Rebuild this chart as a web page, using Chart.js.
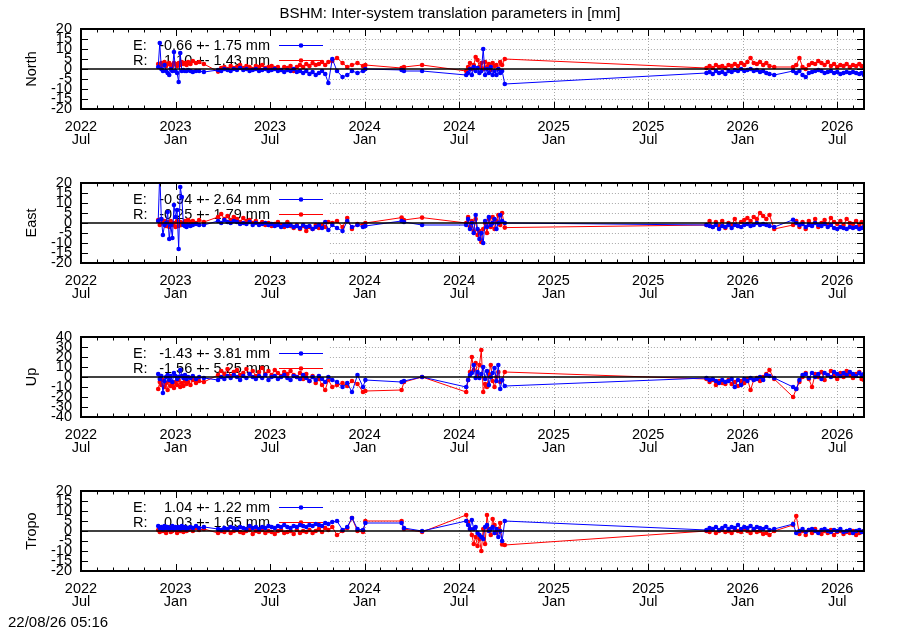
<!DOCTYPE html>
<html>
<head>
<meta charset="utf-8">
<title>BSHM inter-system translation parameters</title>
<script src="https://cdn.jsdelivr.net/npm/chart.js@4.4.1/dist/chart.umd.min.js"></script>
<style>
  body { margin: 0; background: #fff; width: 900px; height: 630px; position: relative; overflow: hidden;
         font-family: 'Liberation Sans', Arial, sans-serif; color: #000; }
  canvas { position: absolute; left: 0; }
  #title { position: absolute; top: 4px; left: 0; width: 900px; text-align: center; font-size: 15px; line-height: 18px; z-index: 2; }
  #stamp { position: absolute; left: 8px; top: 613px; font-size: 15px; line-height: 18px; z-index: 2; }
</style>
</head>
<body>
<div id="title">BSHM: Inter-system translation parameters in [mm]</div>
<canvas id="panel0" width="900" height="154" style="top:0px"></canvas>
<canvas id="panel1" width="900" height="154" style="top:154px"></canvas>
<canvas id="panel2" width="900" height="154" style="top:308px"></canvas>
<canvas id="panel3" width="900" height="154" style="top:462px"></canvas>
<div id="stamp">22/08/26 05:16</div>
<script>
var FONT = "'Liberation Sans', Arial, sans-serif";
Chart.defaults.font.family = FONT;
Chart.defaults.font.size = 14.5;
Chart.defaults.color = '#000';

// time axis in months since 2022 Jul
var xMajor = [0, 6, 12, 18, 24, 30, 36, 42, 48];
var xTickLabels = [['2022', 'Jul'], ['2023', 'Jan'], ['2023', 'Jul'], ['2024', 'Jan'], ['2024', 'Jul'],
                   ['2025', 'Jan'], ['2025', 'Jul'], ['2026', 'Jan'], ['2026', 'Jul']];
var xMax = 49.7;
var gridFrom = 15.8;   // grid is hidden under the key left of this

var panelNames = ['North', 'East', 'Up', 'Tropo'];
var yLimits = [20, 20, 40, 20];
var ySteps = [5, 5, 10, 5];
var keyE = ['-0.66 +- 1.75 mm', '-0.94 +- 2.64 mm', '-1.43 +- 3.81 mm', '1.04 +- 1.22 mm'];
var keyR = ['1.10 +- 1.43 mm', '-0.25 +- 1.79 mm', '-1.56 +- 5.25 mm', '0.03 +- 1.65 mm'];

// epochs of the solutions (months since 2022 Jul)
var epochs = [
  4.9, 5.0, 5.1, 5.2, 5.3, 5.4, 5.5, 5.6, 5.7, 5.8, 5.9, 6.0, 6.1, 6.2, 6.3, 6.4, 6.5, 6.6, 6.7, 6.8, 6.95, 7.1, 7.3, 7.5, 7.8,
  8.7, 8.9, 9.1, 9.3, 9.5, 9.7, 9.9, 10.1, 10.3, 10.5, 10.7, 10.9, 11.1, 11.3, 11.5, 11.7, 11.9, 12.1, 12.3, 12.5,
  12.7, 12.9, 13.1, 13.3, 13.5, 13.7, 13.9, 14.1, 14.3, 14.5, 14.7, 14.9, 15.1, 15.3, 15.5, 15.7,
  15.95, 16.25, 16.6, 16.9, 17.2, 17.55, 17.9, 18.05, 20.35, 20.5, 21.65,
  24.45, 24.57, 24.69, 24.81, 24.93, 25.05, 25.17, 25.29, 25.41, 25.53, 25.65, 25.77, 25.89, 26.01, 26.13, 26.25,
  26.37, 26.49, 26.61, 26.73, 26.9,
  39.7, 39.9, 40.1, 40.3, 40.5, 40.7, 40.9, 41.1, 41.3, 41.5, 41.7, 41.9, 42.1, 42.3, 42.5, 42.7, 42.9, 43.1, 43.3, 43.5, 43.7, 44.0,
  45.2, 45.4, 45.6, 45.8, 46.0, 46.2, 46.4, 46.6, 46.8, 47.0, 47.2, 47.4, 47.6, 47.8, 48.0, 48.2, 48.4, 48.6, 48.8, 49.0, 49.2, 49.4, 49.55, 49.7
];

var northE = [
  1, 13, 0, -1, 2, -1, -2, -3, 0, -1, 8.5, -1, -2, -6.5, 8, -1, -0.5, -1, -1, -0.5, -1, -1.5, -1, -1, -1.5,
  -0.5, -1, 0, -0.5, -1, 0, -0.5, 0.5, -0.5, 0, -1, -0.5, 0, -1, -0.5, 0, -1, -0.5, 0, -1,
  -0.5, -1.5, -0.5, -1, 0, -1.5, -1, -2, -1, -2.5, -1.5, -3, -2, -1, -2.5, -7,
  5, -1, -4, -3, -1, -2, -1, 0, -0.5, -1, -1,
  -3, -2, 0, -3, 1, -1, 0.5, -2, -1, 10, -3, 0, -2, 1, -3, -1, -3, 0, -2, -1, -7.5,
  -2, -1.5, -2.5, -1, -2, -1.5, -2.5, -1, -1.5, -0.5, -1, 0, -1, -0.5, 0, -1, -0.5, -1.5, -1, -2, -2.5, -3,
  -1, -2, -1, -3, -4, -2, -1.5, -1, -0.5, -1, -2, -1.5, -1, -2, -1.5, -2.5, -2, -1.5, -2, -1.5, -2, -2.5, -2, -3
];
var northR = [
  2.5, 1.5, 3, 2, 3.5, 1.5, 2.5, 3, 2, 1.5, 3, 2.5, 1.5, 3, 2, 3.5, 2.5, 3, 2, 3.5, 2.5, 4, 3, 3.5, 2.5,
  -1.3, 0.5, 1, 0, 1.5, 0.5, 1, 2, 0.5, 1.5, 1, 0, 1.5, 1, 2, 0.5, 1, 1.5, 0.5, 1,
  -0.5, 1, 0.5, 1.5, -1, 1, 2, 1, 2.5, 1.5, 3, 2, 2.5, 3.5, 2, 3.5,
  4, 5.5, 3, 1, 2, 3, 1.5, 2, 0.5, 1, 2,
  -1, 1, 3, 0, 2, 6, 4.5, 1, 3, 0, 3.5, 1, 2.5, -0.5, 3, 1.5, 2, 0, 3.5, 2, 5,
  0.5, 1.5, 0.5, 2, 1, 1.5, 0.5, 2, 1.5, 2.5, 1.5, 3, 2, 3.5, 5.5, 3, 2.5, 3.5, 2, 3, 1.5, 1,
  1, 2, 5.5, 1, 0, 2, 3, 2.5, 4, 3, 2, 3.5, 1.5, 2.5, 1, 2, 1.5, 2.5, 1, 2, 1.5, 2.5, 1.5, 1
];
var eastE = [
  1, 25, 2, -6, -1, 0, 5.5, -8, -1, -7.5, 9, 3, 6.5, -13, 18, 13, -1, -1.5, -2, -1, -1.5, -1, -0.5, -1, -1,
  1, 0, 1.5, 0.5, 0, 1, 0.5, -0.5, 0, -0.5, 0.5, -1, 0, -1, -0.5, 0, -1, -0.5, -1.5, -1,
  -2, -1, -1.5, -1, -2, -1.5, -2.5, -1, -2, -1.5, -3, -2, -1, -2.5, 0.5, -3.5,
  -1, -2.5, -4, 1, -2, -1, -2, -1.5, 1, 0.5, -1,
  -1, 2, -3, 0, -5, 4, -3, -8, -5, -10, 1, -2, 3, -1, 0, 2, -3, 0, 4, 1, 0,
  -1, -1.5, -2, -1, -3, -1.5, -2, -1, -2.5, -1, -1.5, -2, -1, -0.5, -1.5, -1, 0, -1, -0.5, -1, -1.5, -2,
  1.6, 0, -1, -0.5, -2, -1, -1.5, 0, -1, -1.5, -0.5, -2, -1, -2.5, -3, -2, -2.5, -3, -2, -2.5, -2, -3, -2.5, -2
];
var eastR = [
  1.5, -1, 2, 0, 1, -1.5, 0.5, -2, 1, -1, 0, -2, 1, -1.5, 0.5, -1, 0, 1, -0.5, 1.5, 0.5, 1, 0, 1.5, 0.5,
  3, 4.5, 2, 3.5, 1.5, 3, 2, 0.5, 2.5, 1, 1.5, 0, 1, -0.5, 0.5, -1, 0, -1.5, -0.5, 0.5,
  -1, -2, 0.5, -1.5, -2.5, -1, -3, -1.5, -4, -2, -3, -1, -2.5, -1, -2, 0.5,
  0, 1, -2, 2.5, -3, -0.5, -1, 0, 2.7, 1.5, 2.7,
  0, 3, -2, 1, -4, 2, -6, -4, -9.5, -3, 0, -5, 2, -2, 3, -3, 1, 4, -1, 5, -2.3,
  -1, 1, -2, 0.5, -1.5, 1, -2.5, 0, -1, 2, -1.5, 0.5, 1.5, 2.5, 1, 3, 2, 5, 3.5, 2, 4, -3,
  -1, 1, -2, 0.5, -3, 1, -1, 2, -2, 0, 1.5, -1, 2.5, 0.5, -0.5, 1, -1, 2, 0, -0.5, 1, -1, 0.5, -0.5
];
var upE = [
  3, -2, 1, -16, -4, 0, 2, -3, 1, -5, 4, 1, -2, 0, 7, 1, -1, 2, -2, 0, -1, 1, -2, 0, -1,
  -3, 0, -2, 1, -1, 2, 0, -3, 1, -1, 3, 0, -2, 1, -1, 2, -3, 0, 1, -2,
  0, 2, -1, -3, 1, 0, -2, 2, -1, -4, 0, -3, 1, -2, -5, 0,
  -3, -5, -10, -6, -15, 2, -10, -3, -5, -4, 0,
  -10, -3, 2, 4, 12, -1, 5, -1, 3, 10, -2, 6, -8, 0, 4, 9, -4, 12, -12, -3, -9,
  -1, -3, -2, -4, -6, -3, -5, -4, -2, -10, -3, -8, -2, -4, -1, -3, -2, 0, -3, 2, 1, -1,
  -10, -12, -3, 2, 3, -1, 4, 0, 3, -2, 4, 2, 0, 5, 3, 1, 4, 2, 5, 3, 1, 4, 2, 3
];
var upR = [
  -12, -5, -8, -3, -10, -6, -13, -4, -9, -7, -11, -5, -8, -3, -10, -6, -9, -4, -7, -5, -8, -3, -6, -4, -5,
  2, 6, 3, 8, 1, 5, 7, 2, 4, 8, 3, 6, 1, 5, 9, 3, 6, 2, 7, 4,
  1, 5, 3, 6, 2, 0, 4, -2, 3, -4, 1, -6, -2, -8, -13, -3,
  -10, -8, -6, -9, -4, -7, -15, -14, -13, -5, 0,
  -15, -3, 5, 20, 7, 14, 3, 12, 27, -15, -7, -10, 3, 12, -4, -10, 0, 5, -5, -3, 5,
  -2, -5, -3, -8, -4, -6, -7, -3, -7, -5, -9, -4, -6, -2, -13, -3, -1, -4, 0, 3, 7, -2,
  -20, -12, -5, 0, 4, -2, -10, 3, 0, 5, -3, 2, 6, 1, -2, 4, 0, 6, 2, -1, 3, 5, -2, -3
];
var tropoE = [
  2.5, 1.5, 2, 1, 2.5, 1.5, 2, 1, 1.5, 2.5, 1, 2, 1.5, 2, 1, 2.5, 1.5, 2, 1, 1.5, 2, 1.5, 2.5, 1.5, 2,
  1, 0.5, 1.5, 1, 2, 1.5, 1, 2, 1.5, 1, 2.5, 1.5, 2, 1, 2, 1.5, 2.5, 2, 1.5, 2.5,
  2, 3, 2, 1.5, 2.5, 2, 3, 2.5, 2, 3, 2.5, 3.5, 3, 2.5, 4, 3.5,
  4.5, 5, 0.5, 2, 6.5, 1, 0.5, 4, 4, 1.5, 0,
  5, 3, 1, 5.5, 1, 2, -1, -2, -3, -4, 2, 3, 0, 1, 2, -1, 1, -3, 0, -5, 5,
  0.5, 1.5, 1, 2, 0.5, 1.5, 2.5, 1, 2, 1.5, 3, 1, 2, 1.5, 2.5, 1, 2, 1.5, 1, 2, 0.5, 1,
  3.5, -1, 0, 1, -0.5, 0.5, 1, 0, -1, 0.5, 1, 0, -0.5, 0.5, 0, 1, -0.5, 0, 0.5, -1, 0, 0.5, -0.5, 0
];
var tropoR = [
  0.5, -0.5, 1, 0, 1.5, -1, 0.5, 1, -0.5, 0, 1.5, 0.5, -1, 1, 0, 0.5, -0.5, 1, 0, 0.5, 1, 0, 1.5, 0.5, 1,
  -1, 0, -0.5, 0.5, -1, 0, 0.5, -0.5, -1, 0, 0.5, -1.5, 0, -0.5, 0.5, -1, 0, -0.5, -1.5, 0,
  0.5, -1, -0.5, 0, -1.5, 0.5, -1, 0, -0.5, 0.5, -1, 0, 1, -0.5, 1.5, 0.5,
  2, -2, 0, 1.5, 6.5, 0, -0.5, 5, 5, 1, -0.5,
  8, 4.5, 1, -2, -6.5, -3, -7.5, -4, -10, 1, -6.5, 8, 1, -2, 6, 3, -1, 1, 4, -6.7, -7,
  0, -0.5, 0.5, -1, 0, 0.5, -0.5, 0, -1, 0.5, 0, -0.5, 1, 0, -1, 0.5, -0.5, 0, -1.5, -1, -2, 0,
  3, 7.5, -1.5, 0, -2, 0.5, -1, 1, -0.5, -1.5, 0, -1, 0.5, -2, -0.5, 0, -1.5, -0.5, -1, 0, -2, -1, -0.5, 0
];

var seriesE = [northE, eastE, upE, tropoE];
var seriesR = [northR, eastR, upR, tropoR];
var BLUE = 'rgb(0,0,255)';
var RED = 'rgb(255,0,0)';
var DOT = 2.3;

function points(values) {
  return epochs.map(function(m, k) { return { x: m, y: values[k] }; });
}

// gnuplot look: dotted grid, key, zero line, frame and inward tics
var framePlugin = {
  id: 'frame',
  beforeDatasetsDraw: function(chart, args, opts) {
    var ctx = chart.ctx, a = chart.chartArea, x = chart.scales.x, y = chart.scales.y;
    ctx.save();
    ctx.strokeStyle = '#a8a8a8';
    ctx.lineWidth = 1;
    ctx.setLineDash([1, 2]);
    ctx.beginPath();
    var gx = x.getPixelForValue(gridFrom);
    y.ticks.forEach(function(t) {
      if (t.value == 0 || t.value <= y.min || t.value >= y.max) return;
      var py = Math.round(y.getPixelForValue(t.value)) + 0.5;
      ctx.moveTo(gx, py);
      ctx.lineTo(a.right, py);
    });
    xMajor.forEach(function(v) {
      if (v < gridFrom) return;
      var px = Math.round(x.getPixelForValue(v)) + 0.5;
      ctx.moveTo(px, a.top);
      ctx.lineTo(px, a.bottom);
    });
    ctx.stroke();
    ctx.setLineDash([]);

    // key
    var rows = [['E:', keyE[opts.panel], BLUE, 16.5], ['R:', keyR[opts.panel], RED, 31.5]];
    ctx.font = '14.5px ' + FONT;
    ctx.textBaseline = 'middle';
    rows.forEach(function(r) {
      var ky = a.top + r[3];
      ctx.fillStyle = '#000';
      ctx.textAlign = 'left';
      ctx.fillText(r[0], 133, ky);
      ctx.textAlign = 'right';
      ctx.fillText(r[1], 270, ky);
      ctx.strokeStyle = r[2];
      ctx.fillStyle = r[2];
      ctx.beginPath();
      ctx.moveTo(279, ky);
      ctx.lineTo(323, ky);
      ctx.stroke();
      ctx.beginPath();
      ctx.arc(301, ky, DOT, 0, Math.PI * 2);
      ctx.fill();
    });
    ctx.restore();
  },
  afterDatasetsDraw: function(chart) {
    var ctx = chart.ctx, a = chart.chartArea, x = chart.scales.x, y = chart.scales.y;
    ctx.save();
    ctx.strokeStyle = '#000';
    ctx.lineWidth = 1.5;
    var y0 = y.getPixelForValue(0);
    ctx.beginPath();
    ctx.moveTo(a.left, y0);
    ctx.lineTo(a.right, y0);
    ctx.stroke();

    ctx.lineWidth = 1;
    ctx.beginPath();
    for (var m = 0; m <= xMax; m++) {
      var len = m % 6 == 0 ? 7 : 3.5;
      var px = Math.round(x.getPixelForValue(m)) + 0.5;
      ctx.moveTo(px, a.top);
      ctx.lineTo(px, a.top + len);
      ctx.moveTo(px, a.bottom);
      ctx.lineTo(px, a.bottom - len);
    }
    y.ticks.forEach(function(t) {
      var py = Math.round(y.getPixelForValue(t.value)) + 0.5;
      ctx.moveTo(a.left, py);
      ctx.lineTo(a.left + 7, py);
      ctx.moveTo(a.right, py);
      ctx.lineTo(a.right - 7, py);
    });
    ctx.stroke();

    ctx.lineWidth = 2;
    ctx.strokeRect(a.left, a.top, a.right - a.left, a.bottom - a.top);
    ctx.restore();
  }
};

for (var i = 0; i < 4; i++) {
  new Chart(document.getElementById('panel' + i), {
    type: 'line',
    data: {
      datasets: [{
        label: 'E',
        data: points(seriesE[i]),
        borderColor: BLUE,
        backgroundColor: BLUE,
        borderWidth: 1,
        pointRadius: DOT,
        pointBorderWidth: 0,
        tension: 0
      }, {
        label: 'R',
        data: points(seriesR[i]),
        borderColor: RED,
        backgroundColor: RED,
        borderWidth: 1,
        pointRadius: DOT,
        pointBorderWidth: 0,
        tension: 0
      }]
    },
    options: {
      responsive: false,
      animation: false,
      events: [],
      layout: { padding: { top: 29, right: 36, left: 0, bottom: 0 } },
      plugins: {
        legend: { display: false },
        tooltip: { enabled: false },
        frame: { panel: i }
      },
      scales: {
        x: {
          type: 'linear',
          min: 0,
          max: xMax,
          grid: { display: false, drawTicks: false },
          border: { display: false },
          afterBuildTicks: function(s) { s.ticks = xMajor.map(function(v) { return { value: v }; }); },
          afterFit: function(s) { s.height = 45; },
          ticks: {
            autoSkip: false,
            maxRotation: 0,
            padding: 11,
            font: { size: 14.5, lineHeight: 0.93 },
            callback: function(v, k) { return xTickLabels[k]; }
          }
        },
        y: {
          min: -yLimits[i],
          max: yLimits[i],
          grid: { display: false, drawTicks: false },
          border: { display: false },
          afterFit: function(s) { s.width = 81; },
          ticks: { stepSize: ySteps[i], autoSkip: false, padding: 9 },
          title: { display: true, text: panelNames[i], padding: { top: 23, bottom: 0 }, font: { size: 14.5 } }
        }
      }
    },
    plugins: [framePlugin]
  });
}
</script>
</body>
</html>
